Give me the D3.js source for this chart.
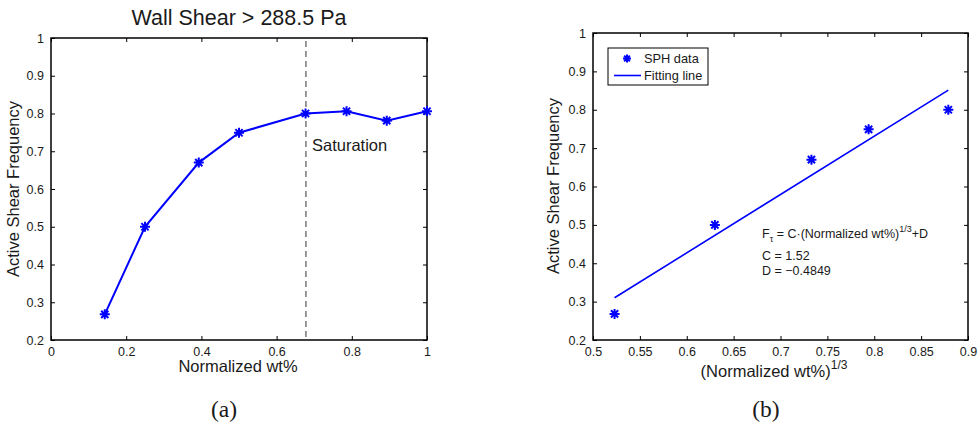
<!DOCTYPE html>
<html><head><meta charset="utf-8">
<script src="https://cdn.jsdelivr.net/npm/d3@7"></script>
<style>body{margin:0;background:#fff}svg{display:block}text{font-family:"Liberation Sans",Arial,sans-serif;fill:#1a1a1a}</style>
</head><body>
<svg id="c" width="978" height="426"></svg>
<script>
// Data
const wtA = [0.143, 0.25, 0.393, 0.5, 0.677, 0.786, 0.893, 1.0];
const freqA = [0.268, 0.5, 0.67, 0.749, 0.8, 0.806, 0.781, 0.806];
const saturationX = 0.678;
const wtCubeRootB = [0.523, 0.63, 0.733, 0.794, 0.879];
const freqB = [0.268, 0.5, 0.67, 0.749, 0.8];
const fitC = 1.52, fitD = -0.4849;
const fitRange = [0.523, 0.879];
const xTicksA = [0, 0.2, 0.4, 0.6, 0.8, 1];
const yTicks = [0.2, 0.3, 0.4, 0.5, 0.6, 0.7, 0.8, 0.9, 1];
const xTicksB = [0.5, 0.55, 0.6, 0.65, 0.7, 0.75, 0.8, 0.85, 0.9];

const svg = d3.select("#c");
const blue = "#0000ff";
const SANS = '"Liberation Sans",Arial,sans-serif';

function star(g, x, y, s) {
  const r = s / 2, d = r * 0.72;
  const p = `M${x - r},${y}L${x + r},${y}M${x},${y - r}L${x},${y + r}M${x - d},${y - d}L${x + d},${y + d}M${x - d},${y + d}L${x + d},${y - d}`;
  g.append("path").attr("d", p).attr("stroke", blue).attr("stroke-width", 2).attr("fill", "none");
}

function fmt(v) { return v === 0 ? "0" : (v === 1 ? "1" : String(+v.toFixed(2))); }

function panel(box, xdom, xticks, ydom) {
  const x = d3.scaleLinear().domain(xdom).range([box.l, box.r]);
  const y = d3.scaleLinear().domain(ydom).range([box.b, box.t]);
  const g = svg.append("g");
  const tl = 4;
  const axB = d3.axisBottom(x).tickValues(xticks).tickSizeInner(-tl).tickSizeOuter(0).tickPadding(7).tickFormat(fmt);
  const axT = d3.axisTop(x).tickValues(xticks).tickSizeInner(-tl).tickSizeOuter(0).tickFormat("");
  const axL = d3.axisLeft(y).tickValues(yTicks).tickSizeInner(-tl).tickSizeOuter(0).tickPadding(7).tickFormat(fmt);
  const axR = d3.axisRight(y).tickValues(yTicks).tickSizeInner(-tl).tickSizeOuter(0).tickFormat("");
  [[axB, `translate(0,${box.b})`], [axT, `translate(0,${box.t})`], [axL, `translate(${box.l},0)`], [axR, `translate(${box.r},0)`]].forEach(([a, t]) => {
    const ag = g.append("g").attr("transform", t).call(a).attr("font-family", SANS).attr("font-size", 12.5);
    ag.select(".domain").remove();
    ag.selectAll(".tick line").attr("stroke", "#000").attr("stroke-width", 1);
    ag.selectAll("text").attr("font-size", 12.5).attr("fill", "#1a1a1a").style("font-family", SANS);
  });
  g.append("rect").attr("x", box.l).attr("y", box.t).attr("width", box.r - box.l).attr("height", box.b - box.t)
    .attr("fill", "none").attr("stroke", "#000").attr("stroke-width", 1.5);
  return { x, y, g };
}

// Panel (a)
const A = panel({ l: 51, r: 427, t: 38, b: 340 }, [0, 1], xTicksA, [0.2, 1]);
A.g.append("line").attr("x1", A.x(saturationX)).attr("x2", A.x(saturationX)).attr("y1", A.y(1) + 3).attr("y2", A.y(0.2))
  .attr("stroke", "#808080").attr("stroke-width", 1.6).attr("stroke-dasharray", "6,4");
A.g.append("path").datum(wtA.map((v, i) => [v, freqA[i]]))
  .attr("d", d3.line().x(d => A.x(d[0])).y(d => A.y(d[1])))
  .attr("fill", "none").attr("stroke", blue).attr("stroke-width", 2);
wtA.forEach((v, i) => star(A.g, A.x(v), A.y(freqA[i]), 10));
A.g.append("text").attr("x", 312).attr("y", 151).attr("font-size", 16.5).text("Saturation");
A.g.append("text").attr("x", 239).attr("y", 25).attr("text-anchor", "middle").attr("font-size", 21.5).text("Wall Shear > 288.5 Pa");
A.g.append("text").attr("x", 238).attr("y", 372).attr("text-anchor", "middle").attr("font-size", 16.5).text("Normalized wt%");
A.g.append("text").attr("transform", "translate(19,189) rotate(-90)").attr("text-anchor", "middle").attr("font-size", 16.5).text("Active Shear Frequency");
svg.append("text").attr("x", 224).attr("y", 417).attr("text-anchor", "middle").attr("font-size", 23.5)
  .style("font-family", '"Liberation Serif","Times New Roman",serif').text("(a)");

// Panel (b)
const B = panel({ l: 593, r: 968, t: 33, b: 340 }, [0.5, 0.9], xTicksB, [0.2, 1]);
B.g.append("path").datum(fitRange.map(v => [v, fitC * v + fitD]))
  .attr("d", d3.line().x(d => B.x(d[0])).y(d => B.y(d[1])))
  .attr("fill", "none").attr("stroke", blue).attr("stroke-width", 1.6);
wtCubeRootB.forEach((v, i) => star(B.g, B.x(v), B.y(freqB[i]), 10));
// legend
const lg = B.g.append("g");
lg.append("rect").attr("x", 608).attr("y", 48).attr("width", 100).attr("height", 37).attr("fill", "#fff").attr("stroke", "#000").attr("stroke-width", 1);
star(lg, 627, 58.5, 8);
lg.append("text").attr("x", 644).attr("y", 63).attr("font-size", 12.8).text("SPH data");
lg.append("line").attr("x1", 614).attr("x2", 641).attr("y1", 75.5).attr("y2", 75.5).attr("stroke", blue).attr("stroke-width", 1.6);
lg.append("text").attr("x", 644).attr("y", 80).attr("font-size", 12.8).text("Fitting line");
// annotation
const an = B.g.append("text").attr("x", 762).attr("y", 238).attr("font-size", 12.5);
an.append("tspan").text("F");
an.append("tspan").attr("dy", 4).attr("font-size", 9).text("τ");
an.append("tspan").attr("dy", -4).text(" = C·(Normalized wt%)");
an.append("tspan").attr("dy", -6).attr("font-size", 9).text("1/3");
an.append("tspan").attr("dy", 6).text("+D");
B.g.append("text").attr("x", 762).attr("y", 260).attr("font-size", 12.5).text("C = 1.52");
B.g.append("text").attr("x", 762).attr("y", 275).attr("font-size", 12.5).text("D = \u22120.4849");
B.g.append("text").attr("x", 774).attr("y", 377).attr("text-anchor", "middle").attr("font-size", 16.5)
  .text("(Normalized wt%)").append("tspan").attr("dy", -8).attr("font-size", 12).text("1/3");
B.g.append("text").attr("transform", "translate(559,186) rotate(-90)").attr("text-anchor", "middle").attr("font-size", 16.5).text("Active Shear Frequency");
svg.append("text").attr("x", 766).attr("y", 417).attr("text-anchor", "middle").attr("font-size", 23.5)
  .style("font-family", '"Liberation Serif","Times New Roman",serif').text("(b)");
</script>
</body></html>
